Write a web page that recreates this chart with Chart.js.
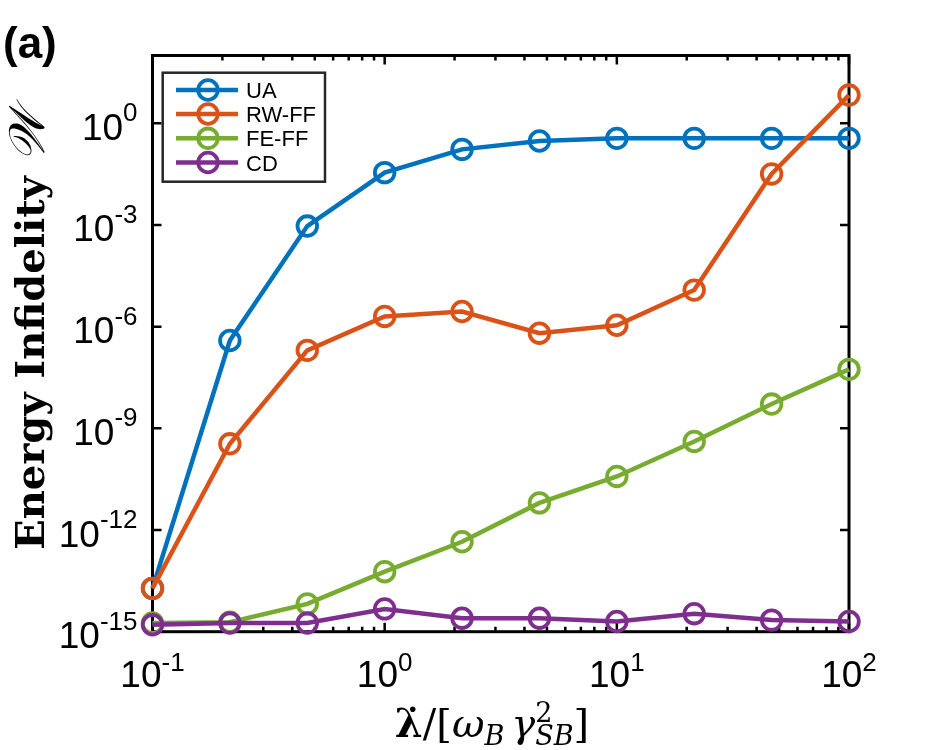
<!DOCTYPE html>
<html><head><meta charset="utf-8">
<script src="https://cdn.jsdelivr.net/npm/chart.js@4.4.0/dist/chart.umd.min.js"></script>
<style>html,body{margin:0;padding:0;background:#fff;overflow:hidden}</style>
</head><body>
<canvas id="c" width="938" height="750"></canvas>
<script>
// ---- data ----
const xValues = [0.1, 0.2154, 0.4642, 1, 2.154, 4.642, 10, 21.54, 46.42, 100];
const seriesNames = ['UA', 'RW-FF', 'FE-FF', 'CD'];
const uaValues   = [1.9e-14, 3.9e-7, 9.3e-4, 3.5e-2, 0.17, 0.30, 0.36, 0.36, 0.36, 0.36];
const rwffValues = [1.9e-14, 3.5e-10, 2.0e-7, 2.0e-6, 2.8e-6, 6.4e-7, 1.1e-6, 1.2e-5, 3.2e-2, 6.8];
const feffValues = [1.8e-15, 1.9e-15, 6.6e-15, 5.9e-14, 4.5e-13, 6.3e-12, 3.8e-11, 4.1e-10, 5.2e-9, 5.5e-8];
const cdValues   = [1.6e-15, 1.8e-15, 1.8e-15, 4.7e-15, 2.5e-15, 2.5e-15, 2.0e-15, 3.4e-15, 2.2e-15, 2.0e-15];
const yTickValues = [1e0, 1e-3, 1e-6, 1e-9, 1e-12, 1e-15];
const yTickExponents = ['0', '-3', '-6', '-9', '-12', '-15'];
const xTickValues = [0.1, 1, 10, 100];
const xTickExponents = ['-1', '0', '1', '2'];

const seriesValues = [uaValues, rwffValues, feffValues, cdValues];
const colors = ['#0072BD', '#D95319', '#77AC30', '#7E2F8E'];

const SANS = '"Liberation Sans", Arial, sans-serif';
const SERIF = '"DejaVu Serif", "Liberation Serif", serif';

function drawPow(c, exp, left, baseY, supY) {
  c.font = '37px ' + SANS;
  c.fillText('10', left, baseY);
  const wb = c.measureText('10').width;
  c.font = '26px ' + SANS;
  c.fillText(exp, left + wb, supY);
}
function powWidth(c, exp) {
  c.font = '37px ' + SANS;
  const wb = c.measureText('10').width;
  c.font = '26px ' + SANS;
  return wb + c.measureText(exp).width;
}

const plotFrame = {
  id: 'plotFrame',
  beforeDraw(chart) {
    const c = chart.ctx;
    c.save(); c.fillStyle = '#fff'; c.fillRect(0, 0, chart.width, chart.height); c.restore();
  },
  beforeDatasetsDraw(chart) {
    const c = chart.ctx, a = chart.chartArea, x = chart.scales.x, y = chart.scales.y;
    c.save();
    c.strokeStyle = '#000';
    c.lineWidth = 2.5;
    c.beginPath();
    for (let d = -1; d < 2; d++) {
      for (let m = 2; m <= 9; m++) {
        const px = x.getPixelForValue(m * Math.pow(10, d));
        c.moveTo(px, a.bottom); c.lineTo(px, a.bottom - 5);
        c.moveTo(px, a.top); c.lineTo(px, a.top + 5);
      }
    }
    xTickValues.forEach(v => {
      const px = x.getPixelForValue(v);
      c.moveTo(px, a.bottom); c.lineTo(px, a.bottom - 9);
      c.moveTo(px, a.top); c.lineTo(px, a.top + 9);
    });
    yTickValues.forEach(v => {
      const py = y.getPixelForValue(v);
      c.moveTo(a.left, py); c.lineTo(a.left + 9, py);
      c.moveTo(a.right, py); c.lineTo(a.right - 9, py);
    });
    c.stroke();
    c.lineWidth = 3;
    c.strokeRect(a.left, a.top, a.right - a.left, a.bottom - a.top);
    c.restore();
  },
  afterDatasetsDraw(chart) {
    const c = chart.ctx, a = chart.chartArea, x = chart.scales.x, y = chart.scales.y;
    c.save();
    c.fillStyle = '#000';
    c.textBaseline = 'alphabetic';
    c.textAlign = 'left';
    // y tick labels
    yTickValues.forEach((v, i) => {
      const py = y.getPixelForValue(v);
      const w = powWidth(c, yTickExponents[i]);
      drawPow(c, yTickExponents[i], a.left - 15 - w, py + 16.5, py - 2);
    });
    // x tick labels
    xTickValues.forEach((v, i) => {
      const px = x.getPixelForValue(v);
      const w = powWidth(c, xTickExponents[i]);
      drawPow(c, xTickExponents[i], px - w / 2, 687, 671);
    });
    // legend
    const lx0 = 162.7, ly0 = 72.7, lx1 = 325, ly1 = 181.7;
    c.fillStyle = '#fff';
    c.fillRect(lx0, ly0, lx1 - lx0, ly1 - ly0);
    c.strokeStyle = '#262626'; c.lineWidth = 2.5;
    c.strokeRect(lx0, ly0, lx1 - lx0, ly1 - ly0);
    const rows = [90, 114, 138.3, 162.5];
    chart.data.datasets.forEach((ds, i) => {
      const ry = rows[i];
      c.strokeStyle = ds.borderColor;
      c.lineWidth = 4.5;
      c.beginPath(); c.moveTo(176, ry); c.lineTo(238, ry); c.stroke();
      c.lineWidth = 3.8;
      c.beginPath(); c.arc(208, ry, 9.8, 0, Math.PI * 2); c.stroke();
      c.fillStyle = '#000';
      c.font = '22px ' + SANS;
      c.fillText(ds.label, 246, ry + 8);
    });
    // panel label
    c.fillStyle = '#000';
    c.font = 'bold 44px ' + SANS;
    c.fillText('(a)', 3, 58);
    // x title
    const runs = [
      {t: 'λ\u0307', f: 'bold 40px ' + SERIF, dy: 0},
      {t: '/', f: '40px ' + SERIF, dy: 0},
      {t: '[', f: '40px ' + SERIF, dy: 0},
      {t: 'ω', f: 'italic 40px ' + SERIF, dy: 0},
      {t: 'B', f: 'italic 27px ' + SERIF, dy: 8},
      {t: ' ', f: '22px ' + SERIF, dy: 0},
      {t: 'γ', f: 'italic 40px ' + SERIF, dy: 0},
      {t: '2', f: '27px ' + SERIF, dy: -15, noAdv: true},
      {t: 'SB', f: 'italic 27px ' + SERIF, dy: 8},
      {t: ']', f: '40px ' + SERIF, dy: 0}
    ];
    let tot = 0;
    runs.forEach(r => { c.font = r.f; r.w = c.measureText(r.t).width; if (!r.noAdv) tot += r.w; });
    let cx = 492 - tot / 2;
    runs.forEach(r => { c.font = r.f; c.fillText(r.t, cx, 737 + r.dy); if (!r.noAdv) cx += r.w; });
    // y title
    c.save();
    c.translate(44, 330);
    c.rotate(-Math.PI / 2);
    const f1 = 'bold 40px ' + SERIF, f2 = 'italic 50px ' + SERIF;
    c.font = f1;
    const t1 = 'Energy Infidelity ';
    const w1 = c.measureText(t1).width;
    c.font = f2;
    const t2 = '𝒲';
    const w2 = c.measureText(t2).width;
    const sx = -(w1 + w2) / 2;
    c.font = f1;
    c.fillText(t1, sx, 0);
    c.font = f2;
    c.fillText(t2, sx + w1, 0);
    c.restore();
    c.restore();
  }
};

const datasets = seriesNames.map((name, i) => ({
  label: name,
  data: xValues.map((xv, j) => ({x: xv, y: seriesValues[i][j]})),
  borderColor: colors[i],
  backgroundColor: colors[i],
  borderWidth: 4.5,
  pointRadius: 9.8,
  pointHoverRadius: 9.8,
  pointBorderWidth: 3.8,
  pointBorderColor: colors[i],
  pointBackgroundColor: 'rgba(255,255,255,0)',
  tension: 0,
  fill: false,
  clip: false,
  order: 3 - i
}));

new Chart(document.getElementById('c').getContext('2d'), {
  type: 'line',
  data: {datasets},
  options: {
    responsive: false,
    animation: false,
    devicePixelRatio: 1,
    layout: {padding: {left: 152.5, right: 89, top: 55.5, bottom: 118.3}},
    scales: {
      x: {type: 'logarithmic', min: 0.1, max: 100, display: false},
      y: {type: 'logarithmic', min: 1e-15, max: 100, display: false}
    },
    plugins: {legend: {display: false}, tooltip: {enabled: false}}
  },
  plugins: [plotFrame]
});
</script>
</body></html>
